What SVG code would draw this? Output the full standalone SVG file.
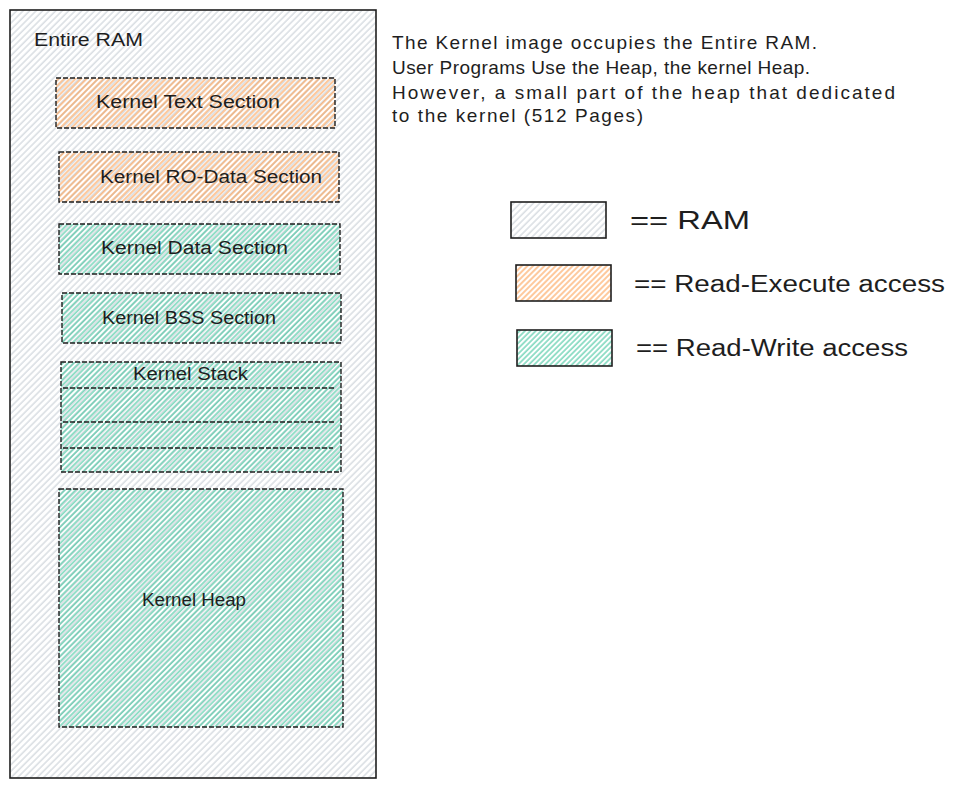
<svg xmlns="http://www.w3.org/2000/svg" width="969" height="788" viewBox="0 0 969 788">
<defs>
<pattern id="hGray" patternUnits="userSpaceOnUse" width="4.6" height="10" patternTransform="rotate(45)">
<line x1="1" y1="0" x2="1" y2="10" stroke="#ced4da" stroke-width="1.2"/>
</pattern>
<pattern id="hOrange" patternUnits="userSpaceOnUse" width="4" height="10" patternTransform="rotate(45)">
<line x1="1" y1="0" x2="1" y2="10" stroke="#fd7e14" stroke-opacity="0.7" stroke-width="1.2"/>
</pattern>
<pattern id="hGreen" patternUnits="userSpaceOnUse" width="3.8" height="10" patternTransform="rotate(45)">
<line x1="1" y1="0" x2="1" y2="10" stroke="#12b886" stroke-opacity="0.72" stroke-width="1.2"/>
</pattern>
</defs>
<style>
text{font-family:"Liberation Sans","Noto Sans",sans-serif;fill:#1e1e1e}
.lbl{font-size:18px}
.note{font-size:19px}
.solid{stroke:#1e1e1e;stroke-width:1.6}
.dash{stroke:#1e1e1e;stroke-width:1.4;stroke-dasharray:5 2}
.gray{fill:url(#hGray)}
.orange{fill:url(#hOrange)}
.green{fill:url(#hGreen)}
</style>
<rect width="969" height="788" fill="#ffffff"/>
<g id="ram">
<rect class="solid gray" x="10" y="10" width="366" height="768"/>
<text class="lbl" x="34" y="46" textLength="109" lengthAdjust="spacingAndGlyphs">Entire RAM</text>
</g>
<g id="text-section">
<rect class="dash orange" x="56" y="78" width="279" height="50"/>
<text class="lbl" x="96" y="108" textLength="184" lengthAdjust="spacingAndGlyphs">Kernel Text Section</text>
</g>
<g id="rodata-section">
<rect class="dash orange" x="59" y="152" width="280" height="50"/>
<text class="lbl" x="100" y="183" textLength="222" lengthAdjust="spacingAndGlyphs">Kernel RO-Data Section</text>
</g>
<g id="data-section">
<rect class="dash green" x="59" y="224" width="281" height="50"/>
<text class="lbl" x="101" y="254" textLength="187" lengthAdjust="spacingAndGlyphs">Kernel Data Section</text>
</g>
<g id="bss-section">
<rect class="dash green" x="62" y="293" width="279" height="50"/>
<text class="lbl" x="102" y="324" textLength="174" lengthAdjust="spacingAndGlyphs">Kernel BSS Section</text>
</g>
<g id="stack">
<rect class="dash green" x="61" y="362" width="280" height="110"/>
<text class="lbl" x="133" y="380" textLength="115" lengthAdjust="spacingAndGlyphs">Kernel Stack</text>
<line class="dash" x1="63" y1="388" x2="335" y2="388"/>
<line class="dash" x1="63" y1="422" x2="336" y2="422"/>
<line class="dash" x1="63" y1="448" x2="333" y2="448"/>
</g>
<g id="heap">
<rect class="dash green" x="59" y="489" width="284" height="238"/>
<text class="lbl" x="142" y="606" textLength="104" lengthAdjust="spacingAndGlyphs">Kernel Heap</text>
</g>
<g id="note">
<text class="note" x="392" y="49" textLength="425" lengthAdjust="spacing">The Kernel image occupies the Entire RAM.</text>
<text class="note" x="392" y="74" textLength="418" lengthAdjust="spacing">User Programs Use the Heap, the kernel Heap.</text>
<text class="note" x="392" y="99" textLength="503" lengthAdjust="spacing">However, a small part of the heap that dedicated</text>
<text class="note" x="392" y="122" textLength="251" lengthAdjust="spacing">to the kernel (512 Pages)</text>
</g>
<g id="legend-ram">
<rect class="solid gray" x="511" y="202" width="95" height="36"/>
<text x="630" y="229" font-size="26" textLength="120" lengthAdjust="spacingAndGlyphs">== RAM</text>
</g>
<g id="legend-rx">
<rect class="solid orange" x="516" y="265" width="95" height="36"/>
<text x="634" y="292" font-size="23" textLength="311" lengthAdjust="spacingAndGlyphs">== Read-Execute access</text>
</g>
<g id="legend-rw">
<rect class="solid green" x="517" y="330" width="95" height="36"/>
<text x="636" y="356" font-size="23" textLength="272" lengthAdjust="spacingAndGlyphs">== Read-Write access</text>
</g>
<g id="connectors"></g>
</svg>
